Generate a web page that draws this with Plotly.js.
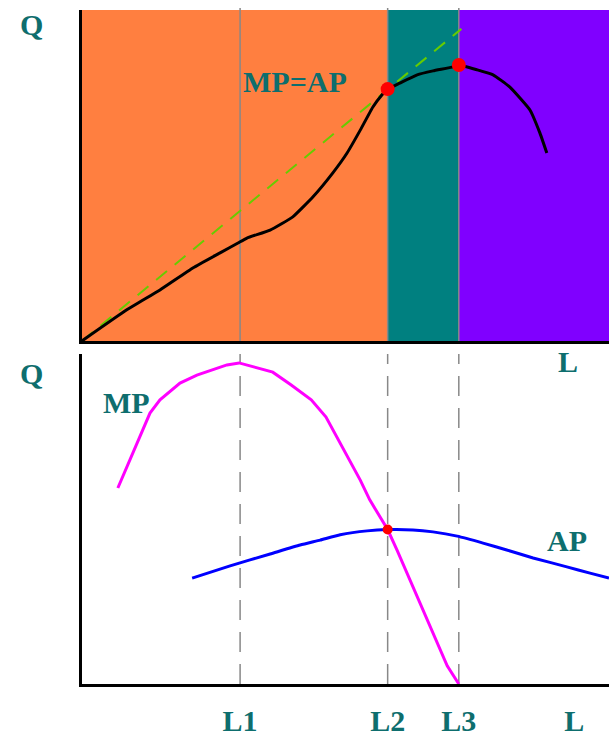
<!DOCTYPE html>
<html>
<head>
<meta charset="utf-8">
<script src="https://cdn.plot.ly/plotly-3.0.1.min.js"></script>
<style>
  html, body { margin: 0; padding: 0; background: #ffffff; }
  #chart { width: 609px; height: 738px; }
</style>
</head>
<body>
<div id="chart"></div>
<script>
// Labour levels that mark the three stages of production
const stageL = [3, 5.8, 7.15];
const stageNames = ['L1', 'L2', 'L3'];

// Bottom axis labels
const axisTickVals = [3, 5.8, 7.15, 9.34];
const axisTickText = ['L1', 'L2', 'L3', 'L'];

// Total product curve (top panel)
const tpL = [0, 0.85, 1.48, 2.11, 2.62, 2.96, 3.13, 3.57, 4.0, 4.38, 4.76, 5.03, 5.28, 5.52, 5.69, 5.8, 6.03, 6.36, 6.66, 7.04, 7.15, 7.5, 7.8, 8.12, 8.5, 8.69, 8.82];
const tpQ = [0, 0.94, 1.54, 2.21, 2.66, 2.96, 3.11, 3.35, 3.75, 4.35, 5.08, 5.68, 6.37, 7.07, 7.43, 7.61, 7.79, 8.04, 8.16, 8.28, 8.34, 8.19, 8.04, 7.67, 6.98, 6.28, 5.68];

// Ray from the origin touching TP where MP = AP
const rayL = [0, 7.2];
const rayQ = [0, 9.43];

// Highlighted points on TP: MP = AP (at L2) and maximum TP (at L3)
const tpDotL = [5.8, 7.15];
const tpDotQ = [7.61, 8.34];

// Marginal product curve (bottom panel)
const mpL = [0.68, 0.91, 1.1, 1.29, 1.48, 1.86, 2.18, 2.49, 2.75, 2.98, 3.24, 3.62, 3.97, 4.35, 4.63, 4.9, 5.28, 5.46, 5.69, 5.8, 5.98, 6.36, 6.76, 6.93, 7.15];
const mpQ = [5.94, 6.79, 7.48, 8.21, 8.61, 9.12, 9.36, 9.52, 9.67, 9.73, 9.61, 9.45, 9.06, 8.61, 8.09, 7.3, 6.18, 5.58, 4.97, 4.68, 4.05, 2.65, 1.13, 0.55, 0];

// Average product curve (bottom panel)
const apL = [2.09, 2.81, 3.57, 4.14, 4.52, 4.9, 5.41, 5.8, 6.28, 6.66, 7.12, 7.61, 8.06, 8.56, 9.2, 9.64, 10.0];
const apQ = [3.21, 3.58, 3.94, 4.21, 4.36, 4.52, 4.64, 4.68, 4.67, 4.61, 4.48, 4.27, 4.06, 3.82, 3.55, 3.36, 3.21];

// MP and AP intersection
const crossL = [5.8];
const crossQ = [4.68];

const textColor = '#0e6e6e';
const labelFont = { family: 'Liberation Serif, Times New Roman, serif', size: 30, color: textColor, weight: 'bold' };

const traces = [
  { x: rayL, y: rayQ, xaxis: 'x', yaxis: 'y', mode: 'lines',
    line: { color: '#66cc00', width: 2, dash: '14px,10px' }, hoverinfo: 'skip' },
  { x: tpL, y: tpQ, xaxis: 'x', yaxis: 'y', mode: 'lines',
    line: { color: '#000000', width: 3, shape: 'spline', smoothing: 0.4 } },
  { x: tpDotL, y: tpDotQ, xaxis: 'x', yaxis: 'y', mode: 'markers',
    marker: { color: '#ff0000', size: 14 } },
  { x: mpL, y: mpQ, xaxis: 'x2', yaxis: 'y2', mode: 'lines',
    line: { color: '#ff00ff', width: 3 } },
  { x: apL, y: apQ, xaxis: 'x2', yaxis: 'y2', mode: 'lines',
    line: { color: '#0000ff', width: 3, shape: 'spline', smoothing: 0.5 } },
  { x: crossL, y: crossQ, xaxis: 'x2', yaxis: 'y2', mode: 'markers',
    marker: { color: '#ff0000', size: 10 } }
];

// Stage backgrounds in the top panel
const shapes = [
  { type: 'rect', xref: 'x', yref: 'y domain', x0: 0, x1: stageL[1], y0: 0, y1: 1,
    fillcolor: '#ff7f40', line: { width: 0 }, layer: 'below' },
  { type: 'rect', xref: 'x', yref: 'y domain', x0: stageL[1], x1: stageL[2], y0: 0, y1: 1,
    fillcolor: '#008080', line: { width: 0 }, layer: 'below' },
  { type: 'rect', xref: 'x', yref: 'y domain', x0: stageL[2], x1: 10, y0: 0, y1: 1,
    fillcolor: '#8000ff', line: { width: 0 }, layer: 'below' }
];
// Stage markers: solid in the top panel, dashed in the bottom panel
stageL.forEach(function (l) {
  shapes.push({ type: 'line', xref: 'x', yref: 'y domain', x0: l, x1: l, y0: 0, y1: 1.006,
    line: { color: '#888888', width: 1.5 }, layer: 'below' });
  shapes.push({ type: 'line', xref: 'x2', yref: 'y2 domain', x0: l, x1: l, y0: 0, y1: 1,
    line: { color: '#888888', width: 1.5, dash: '20px,12px' }, layer: 'below' });
});

function label(text, xref, yref, x, y) {
  return { text: text, xref: xref, yref: yref, x: x, y: y, showarrow: false,
    xanchor: 'center', yanchor: 'middle', font: labelFont };
}

const annotations = [
  label('Q', 'paper', 'paper', -0.095, 0.979),
  label('Q', 'paper', 'paper', -0.095, 0.461),
  label('L', 'x', 'paper', 9.22, 0.478),
  label('MP=AP', 'x', 'y', 4.04, 7.85),
  label('MP', 'x2', 'y2', 0.835, 8.52),
  label('AP', 'x2', 'y2', 9.2, 4.36)
];

const axisCommon = {
  range: [0, 10], showgrid: false, zeroline: false, showline: true,
  linecolor: '#000000', linewidth: 3, ticks: '', fixedrange: true
};

const layout = {
  width: 609, height: 738,
  margin: { l: 82, r: 0, t: 10, b: 54 },
  paper_bgcolor: '#ffffff', plot_bgcolor: 'rgba(0,0,0,0)',
  showlegend: false,
  xaxis: Object.assign({}, axisCommon, { anchor: 'y', showticklabels: false }),
  yaxis: Object.assign({}, axisCommon, { domain: [0.509, 1], anchor: 'x', showticklabels: false }),
  xaxis2: Object.assign({}, axisCommon, {
    anchor: 'y2', tickmode: 'array', tickvals: axisTickVals, ticktext: axisTickText,
    tickfont: labelFont, ticklabelstandoff: 8
  }),
  yaxis2: Object.assign({}, axisCommon, { domain: [0, 0.4896], anchor: 'x2', showticklabels: false }),
  shapes: shapes,
  annotations: annotations
};

Plotly.newPlot('chart', traces, layout, { displayModeBar: false, staticPlot: true });
</script>
</body>
</html>
